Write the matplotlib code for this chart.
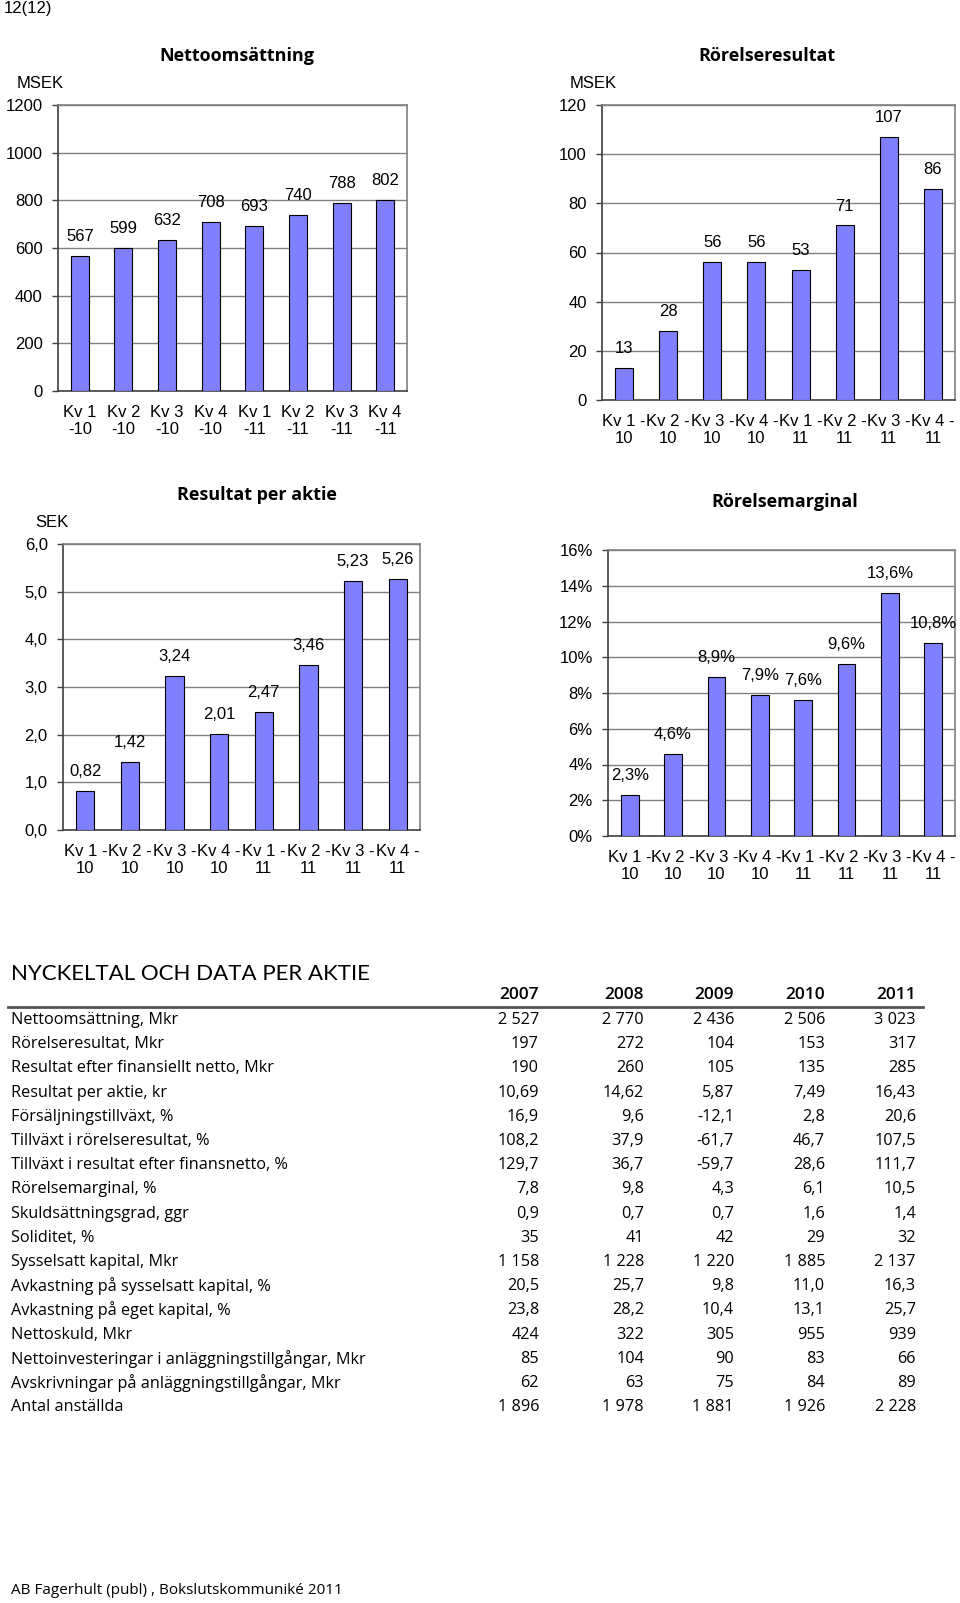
import numpy as np
import matplotlib.pyplot as plt

plt.rcParams['font.family'] = ['Liberation Sans', 'DejaVu Sans']

# ---------- data ----------
quarters = ['Kv 1 -10', 'Kv 2 -10', 'Kv 3 -10', 'Kv 4 -10',
            'Kv 1 -11', 'Kv 2 -11', 'Kv 3 -11', 'Kv 4 -11']
nettoomsattning = [567, 599, 632, 708, 693, 740, 788, 802]
rorelseresultat = [13, 28, 56, 56, 53, 71, 107, 86]
resultat_per_aktie = [0.82, 1.42, 3.24, 2.01, 2.47, 3.46, 5.23, 5.26]
rorelsemarginal = [2.3, 4.6, 8.9, 7.9, 7.6, 9.6, 13.6, 10.8]

years = ['2007', '2008', '2009', '2010', '2011']
row_labels = [
    'Nettoomsättning, Mkr',
    'Rörelseresultat, Mkr',
    'Resultat efter finansiellt netto, Mkr',
    'Resultat per aktie, kr',
    'Försäljningstillväxt, %',
    'Tillväxt i rörelseresultat, %',
    'Tillväxt i resultat efter finansnetto, %',
    'Rörelsemarginal, %',
    'Skuldsättningsgrad, ggr',
    'Soliditet, %',
    'Sysselsatt kapital, Mkr',
    'Avkastning på sysselsatt kapital, %',
    'Avkastning på eget kapital, %',
    'Nettoskuld, Mkr',
    'Nettoinvesteringar i anläggningstillgångar, Mkr',
    'Avskrivningar på anläggningstillgångar, Mkr',
    'Antal anställda',
]
col_2007 = ['2 527', '197', '190', '10,69', '16,9', '108,2', '129,7', '7,8', '0,9', '35',
            '1 158', '20,5', '23,8', '424', '85', '62', '1 896']
col_2008 = ['2 770', '272', '260', '14,62', '9,6', '37,9', '36,7', '9,8', '0,7', '41',
            '1 228', '25,7', '28,2', '322', '104', '63', '1 978']
col_2009 = ['2 436', '104', '105', '5,87', '-12,1', '-61,7', '-59,7', '4,3', '0,7', '42',
            '1 220', '9,8', '10,4', '305', '90', '75', '1 881']
col_2010 = ['2 506', '153', '135', '7,49', '2,8', '46,7', '28,6', '6,1', '1,6', '29',
            '1 885', '11,0', '13,1', '955', '83', '84', '1 926']
col_2011 = ['3 023', '317', '285', '16,43', '20,6', '107,5', '111,7', '10,5', '1,4', '32',
            '2 137', '16,3', '25,7', '939', '66', '89', '2 228']

W, H = 960, 1603
fig = plt.figure(figsize=(W / 100, H / 100), dpi=100)

title_font = ['Open Sans', 'DejaVu Sans']
table_font = ['Open Sans', 'DejaVu Sans']
head_font = ['Lato', 'DejaVu Sans']


def add_ax(left, top, right, bottom):
    return fig.add_axes([left / W, 1 - bottom / H, (right - left) / W, (bottom - top) / H])


def bar_chart(ax, values, ymax, step, tickfmt, labelfmt, xlabels):
    x = np.arange(len(values))
    ax.bar(x, values, width=0.41, color='#8080ff', edgecolor='black', linewidth=0.8, zorder=3)
    ax.set_xlim(-0.5, len(values) - 0.5)
    ax.set_ylim(0, ymax)
    ticks = np.arange(0, ymax + step / 2, step)
    ax.set_yticks(ticks)
    ax.set_yticklabels([tickfmt(t) for t in ticks])
    ax.yaxis.grid(True, color='#808080', linewidth=1)
    ax.set_axisbelow(True)
    ax.set_xticks(x)
    ax.set_xticklabels(xlabels)
    ax.tick_params(axis='x', length=0, pad=10, labelsize=12)
    ax.tick_params(axis='y', length=4, width=1, color='#404040', pad=7, labelsize=12)
    for s in ax.spines.values():
        s.set_color('#808080')
        s.set_linewidth(1.2)
    ax.spines['left'].set_color('#404040')
    ax.spines['bottom'].set_color('#404040')
    for xi, v in zip(x, values):
        ax.annotate(labelfmt(v), (xi, v), xytext=(0, 14), textcoords='offset points',
                    ha='center', va='center', fontsize=12)


labels_a = [q.replace(' -', '\n-') for q in quarters]
labels_b = [q.replace(' -', ' -\n') for q in quarters]

# Nettoomsättning
ax1 = add_ax(58, 105, 407, 391)
bar_chart(ax1, nettoomsattning, 1200, 200, lambda t: '%d' % t, lambda v: '%d' % v, labels_a)

# Rörelseresultat
ax2 = add_ax(602, 105, 955, 400)
bar_chart(ax2, rorelseresultat, 120, 20, lambda t: '%d' % t, lambda v: '%d' % v, labels_b)

# Resultat per aktie
ax3 = add_ax(63, 544, 420, 830)
bar_chart(ax3, resultat_per_aktie, 6, 1, lambda t: ('%.1f' % t).replace('.', ','),
          lambda v: ('%.2f' % v).replace('.', ','), labels_b)

# Rörelsemarginal
ax4 = add_ax(608, 550, 955, 836)
bar_chart(ax4, rorelsemarginal, 16, 2, lambda t: '%d%%' % t,
          lambda v: ('%.1f%%' % v).replace('.', ','), labels_b)

# titles and units
fig.text(4 / W, 1 - 9 / H, '12(12)', ha='left', va='center', fontsize=12)
for x, y, s in [(237, 56, 'Nettoomsättning'), (767, 56, 'Rörelseresultat'),
                (257, 495, 'Resultat per aktie'), (785, 502, 'Rörelsemarginal')]:
    fig.text(x / W, 1 - y / H, s, ha='center', va='center', fontsize=13,
             fontweight='bold', family=title_font)
for x, y, s in [(17, 83, 'MSEK'), (570, 83, 'MSEK'), (35, 523, 'SEK')]:
    fig.text(x / W, 1 - y / H, s, ha='left', va='center', fontsize=12)

# ---------- table ----------
fig.text(11 / W, 1 - 974 / H, 'NYCKELTAL OCH DATA PER AKTIE', ha='left', va='center',
         fontsize=16, family=head_font)
col_right = [539, 644, 734, 825, 916]
for xr, yr in zip(col_right, years):
    fig.text(xr / W, 1 - 995 / H, yr, ha='right', va='center', fontsize=12.5,
             fontweight='semibold', family=table_font)
fig.add_artist(plt.Line2D([8 / W, 923 / W], [1 - 1007 / H, 1 - 1007 / H],
                          color='#555555', linewidth=2))

columns = [col_2007, col_2008, col_2009, col_2010, col_2011]
for i, lab in enumerate(row_labels):
    y = 1 - (1020 + i * 24.2) / H
    fig.text(11 / W, y, lab, ha='left', va='center', fontsize=11.7, family=table_font)
    for xr, col in zip(col_right, columns):
        fig.text(xr / W, y, col[i], ha='right', va='center', fontsize=11.7, family=table_font)

fig.text(11 / W, 1 - 1591 / H, 'AB Fagerhult (publ) , Bokslutskommuniké 2011', ha='left',
         va='center', fontsize=11, family=table_font)

fig.savefig('out.png', dpi=100)
